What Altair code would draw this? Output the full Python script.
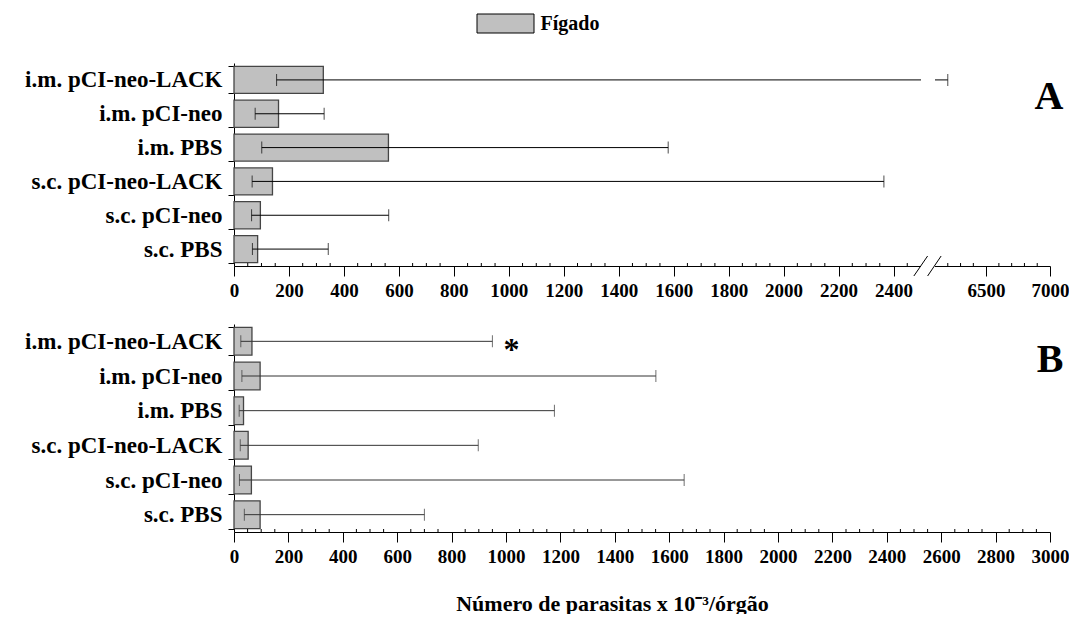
import altair as alt
import pandas as pd

# ---------------- data ----------------
groups = ["i.m. pCI-neo-LACK", "i.m. pCI-neo", "i.m. PBS",
          "s.c. pCI-neo-LACK", "s.c. pCI-neo", "s.c. PBS"]
organ = "Fígado"

a_mean = [325, 162, 562, 140, 96, 86]
a_low = [155, 77, 101, 66, 64, 67]
a_high = [6200, 328, 1580, 2365, 563, 343]

b_mean = [66, 96, 35, 52, 64, 96]
b_low = [25, 29, 19, 23, 20, 38]
b_high = [950, 1551, 1178, 898, 1655, 700]

a_ticks = [0, 200, 400, 600, 800, 1000, 1200, 1400, 1600, 1800, 2000, 2200, 2400, 6500, 7000]
a_minor = [v for v in range(50, 2500, 50) if v % 200 != 0] + [6200, 6300, 6400, 6600, 6700, 6800, 6900]
b_ticks = list(range(0, 3001, 200))
b_minor = [v for v in range(50, 3000, 50) if v % 200 != 0]

# axis break (top panel): 2500 | 6100
break_lo, break_hi = 2500, 6100
slash_x0 = [2474, 4200]
slash_x1 = [4200, 6148]

panel_a = ["A"]
panel_b = ["B"]
sig_group = ["i.m. pCI-neo-LACK"]
sig_x = [1020]
sig_text = ["*"]

x_title = "Número de parasitas x 10⁻³/órgão"

# ---------------- style ----------------
FONT = "Liberation Serif"
W = 816
HA = 203
HB = 208
BAR_FILL = "#c0c0c0"
BAR_STROKE = "#454545"

dfA = pd.DataFrame({"grupo": groups, "media": a_mean, "inf": a_low, "sup": a_high,
                    "orgao": [organ] * len(groups)})
dfB = pd.DataFrame({"grupo": groups, "media": b_mean, "inf": b_low, "sup": b_high})

y_enc = alt.Y("grupo:N", sort=groups,
              scale=alt.Scale(paddingInner=0.2, paddingOuter=0.1),
              axis=alt.Axis(title=None, tickBand="extent", tickSize=6, labelPadding=6,
                            labelFont=FONT, labelFontSize=23, labelFontWeight="bold",
                            labelColor="black", domainColor="black", tickColor="black",
                            labelLimit=0))

xA_scale = alt.Scale(domain=[0, break_lo, break_hi, 7000], range=[0, 687, 701, W], nice=False)
xA_axis = alt.Axis(values=a_ticks, format="d", title=None, tickSize=10, labelPadding=5,
                   labelFont=FONT, labelFontSize=19, labelFontWeight="bold",
                   labelColor="black", domainColor="black", tickColor="black",
                   labelOverlap=False, labelFlush=False, grid=False)

xB_scale = alt.Scale(domain=[0, 3000], nice=False)
xB_axis = alt.Axis(values=b_ticks, format="d", title=x_title, tickSize=10, labelPadding=5,
                   labelFont=FONT, labelFontSize=19, labelFontWeight="bold",
                   labelColor="black", domainColor="black", tickColor="black",
                   labelOverlap=False, labelFlush=False, grid=False,
                   titleFont=FONT, titleFontSize=22, titleFontWeight="bold",
                   titleColor="black", titleX=378, titleY=78,
                   titleBaseline="alphabetic", titleAlign="center")

legend = alt.Legend(orient="none", legendX=261.5, legendY=-49.5, title=None,
                    symbolType="M-3,-1L3,-1L3,1L-3,1Z",
                    symbolSize=361, symbolStrokeColor="black", symbolStrokeWidth=1,
                    labelFont=FONT, labelFontSize=20, labelFontWeight="bold",
                    labelColor="black", labelOffset=25)

# ---------------- top panel ----------------
baseA = alt.Chart(dfA)
barsA = baseA.mark_bar(stroke=BAR_STROKE, strokeWidth=1.3).encode(
    y=y_enc,
    x=alt.X("media:Q", scale=xA_scale, axis=xA_axis),
    color=alt.Color("orgao:N", scale=alt.Scale(range=[BAR_FILL]), legend=legend),
)
errA = baseA.mark_rule(color="black", strokeWidth=1).encode(
    y=alt.Y("grupo:N", sort=groups), x="inf:Q", x2="sup:Q")
capLoA = baseA.mark_tick(color="black", thickness=1, size=12).encode(
    y=alt.Y("grupo:N", sort=groups), x="inf:Q")
capHiA = baseA.mark_tick(color="black", thickness=1, size=12).encode(
    y=alt.Y("grupo:N", sort=groups), x="sup:Q")
gapA = alt.Chart(pd.DataFrame({"a": [break_lo], "b": [break_hi]})).mark_rect(color="white").encode(
    x="a:Q", x2="b:Q", y=alt.value(0), y2=alt.value(HA + 2))
minorA = alt.Chart(pd.DataFrame({"m": a_minor})).mark_rule(color="black", strokeWidth=1).encode(
    x="m:Q", y=alt.value(HA - 3), y2=alt.value(HA))
slashA = alt.Chart(pd.DataFrame({"x0": slash_x0, "x1": slash_x1})).mark_rule(
    color="black", strokeWidth=1).encode(
    x="x0:Q", x2="x1:Q", y=alt.value(HA + 10), y2=alt.value(HA - 10))
labelA = alt.Chart(pd.DataFrame({"p": panel_a})).mark_text(
    font=FONT, fontSize=40, fontWeight="bold", color="black", baseline="alphabetic").encode(
    text="p:N", x=alt.value(815), y=alt.value(46))

top = alt.layer(barsA, errA, capLoA, capHiA, minorA, gapA, slashA, labelA).properties(
    width=W, height=HA)

# ---------------- bottom panel ----------------
baseB = alt.Chart(dfB)
barsB = baseB.mark_bar(fill=BAR_FILL, stroke=BAR_STROKE, strokeWidth=1.3).encode(
    y=y_enc,
    x=alt.X("media:Q", scale=xB_scale, axis=xB_axis),
)
errB = baseB.mark_rule(color="#333333", strokeWidth=1).encode(
    y=alt.Y("grupo:N", sort=groups), x="inf:Q", x2="sup:Q")
capLoB = baseB.mark_tick(color="#333333", thickness=1, size=12).encode(
    y=alt.Y("grupo:N", sort=groups), x="inf:Q")
capHiB = baseB.mark_tick(color="#333333", thickness=1, size=12).encode(
    y=alt.Y("grupo:N", sort=groups), x="sup:Q")
minorB = alt.Chart(pd.DataFrame({"m": b_minor})).mark_rule(color="black", strokeWidth=1).encode(
    x="m:Q", y=alt.value(HB - 3), y2=alt.value(HB))
sigB = alt.Chart(pd.DataFrame({"grupo": sig_group, "x": sig_x, "s": sig_text})).mark_text(
    font=FONT, fontSize=32, fontWeight="bold", color="black", dy=9).encode(
    x="x:Q", y=alt.Y("grupo:N", sort=groups), text="s:N")
labelB = alt.Chart(pd.DataFrame({"p": panel_b})).mark_text(
    font=FONT, fontSize=40, fontWeight="bold", color="black", baseline="alphabetic").encode(
    text="p:N", x=alt.value(816), y=alt.value(48))

bottom = alt.layer(barsB, errB, capLoB, capHiB, minorB, sigB, labelB).properties(
    width=W, height=HB)

chart = alt.vconcat(top, bottom, spacing=13).properties(
    padding={"left": 16, "top": 5, "right": 0, "bottom": 0}
).configure_view(stroke=None).configure_axis(grid=False)

chart.save("out.html", embed_options={"renderer": "svg", "actions": False})
